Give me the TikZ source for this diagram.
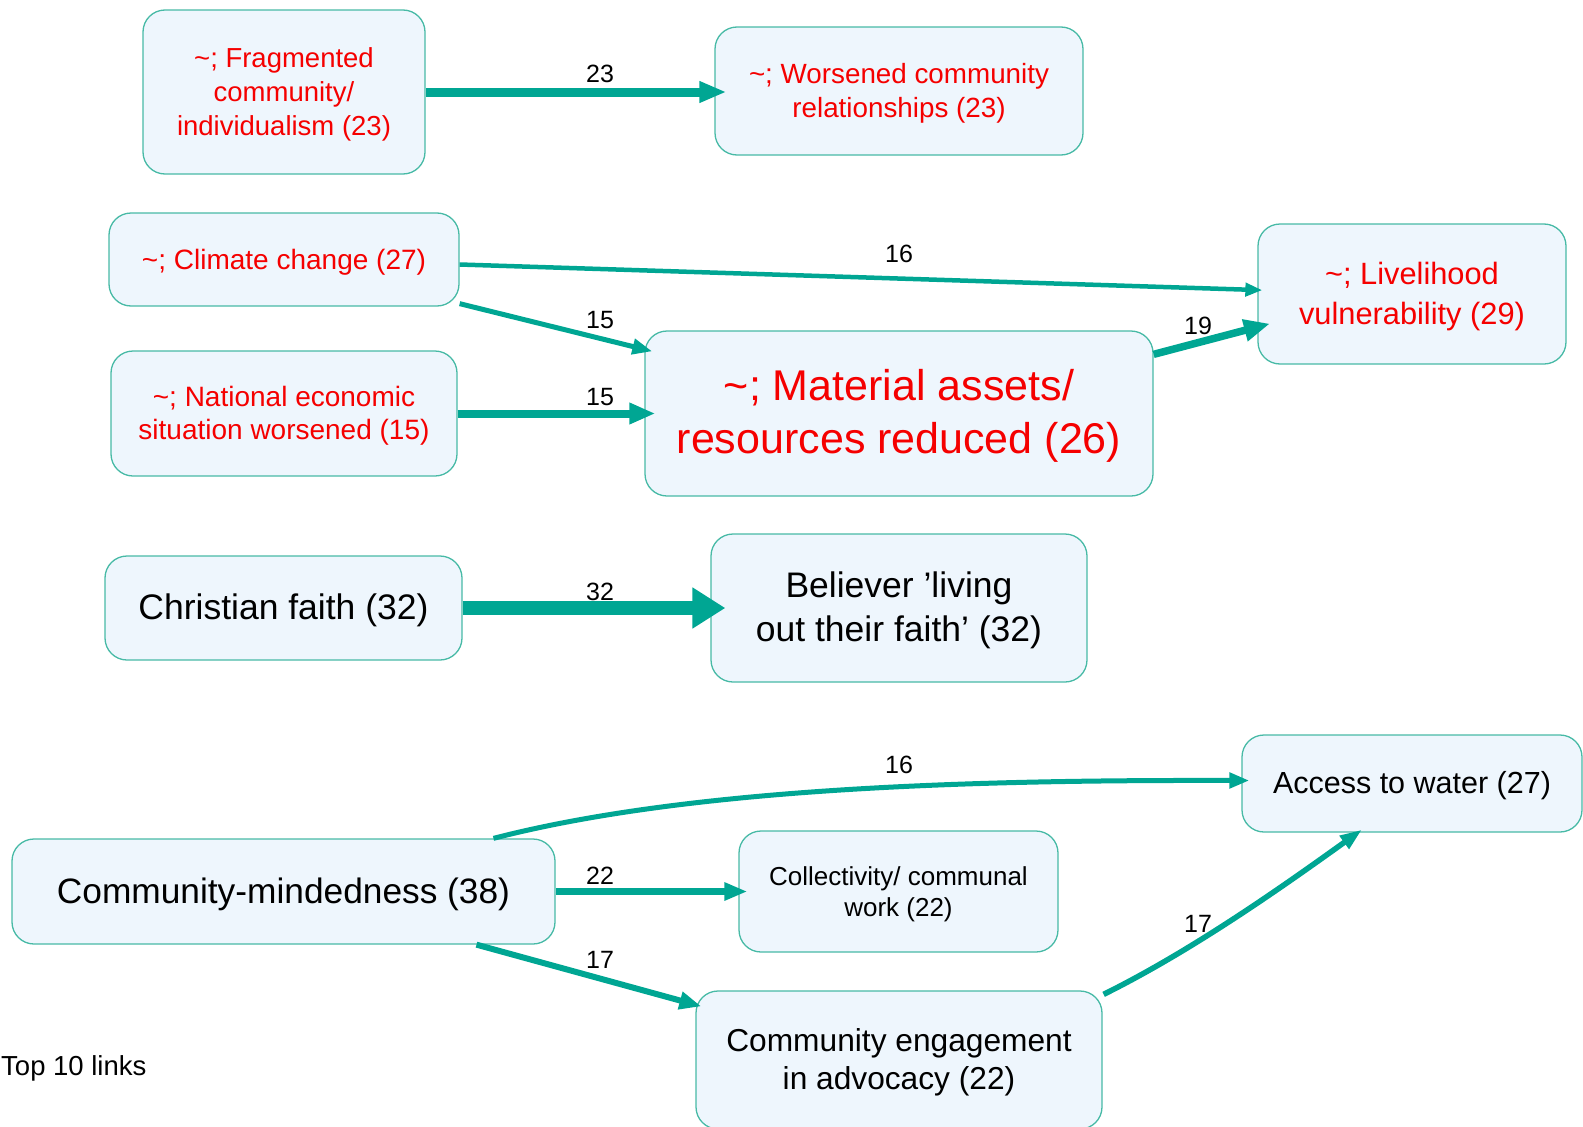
\documentclass[tikz,border=0pt]{standalone}
\usepackage{fontspec}
\setmainfont{Liberation Sans}
\usetikzlibrary{arrows.meta,calc}

\definecolor{linkcol}{RGB}{0,166,147}
\definecolor{boxline}{RGB}{72,186,166}
\definecolor{boxfill}{RGB}{238,246,253}
\definecolor{negtext}{RGB}{245,0,0}

\newcommand\fsz[2]{\fontsize{#1}{#2}\selectfont}

\tikzset{
  box/.style={draw=boxline, line width=1.3pt, fill=boxfill, rounded corners=22pt,
              inner sep=0pt},
  % box caption, set slightly below the geometric centre of its box
  txt/.style={inner sep=0pt, align=center, yshift=-2.5pt, text=black},
  negtxt/.style={txt, text=negtext},
  link/.style={draw=linkcol, line cap=butt},
  elab/.style={font=\fsz{25}{30}, inner sep=0pt, text=black},
}

\begin{document}
\begin{tikzpicture}[x=1pt, y=-1pt]
\useasboundingbox (0,0) rectangle (1583,1127);

% ---- factor nodes ----
\node[box, minimum width=282pt, minimum height=164pt,
  label={[negtxt, font=\fsz{27.5}{34}]center:{\textasciitilde; Fragmented\\community/\\individualism (23)}}]
  (frag) at (284,92) {};
\node[box, minimum width=368pt, minimum height=128pt,
  label={[negtxt, font=\fsz{27.8}{34.3}]center:{\textasciitilde; Worsened community\\relationships (23)}}]
  (wors) at (899,91) {};

\node[box, minimum width=350pt, minimum height=93pt,
  label={[negtxt, font=\fsz{28}{34}]center:{\textasciitilde; Climate change (27)}}]
  (clim) at (284,259.5) {};
\node[box, minimum width=346pt, minimum height=125pt,
  label={[negtxt, font=\fsz{28}{33.3}]center:{\textasciitilde; National economic\\situation worsened (15)}}]
  (natl) at (284,413.5) {};
\node[box, minimum width=508pt, minimum height=165pt,
  label={[negtxt, font=\fsz{43}{52.5}]center:{\textasciitilde; Material assets/\\resources reduced (26)}}]
  (matl) at (899,413.5) {};
\node[box, minimum width=308pt, minimum height=140pt,
  label={[negtxt, font=\fsz{30.8}{40.4}]center:{\textasciitilde; Livelihood\\vulnerability (29)}}]
  (live) at (1412,294) {};

\node[box, minimum width=357pt, minimum height=104pt,
  label={[txt, font=\fsz{35.5}{43.4}]center:{Christian faith (32)}}]
  (chri) at (283.5,608) {};
\node[box, minimum width=376pt, minimum height=148pt,
  label={[txt, font=\fsz{35.5}{43.4}]center:{Believer ’living\\out their faith’ (32)}}]
  (beli) at (899,608) {};

\node[box, minimum width=340pt, minimum height=97pt,
  label={[txt, font=\fsz{30.5}{37}]center:{Access to water (27)}}]
  (acce) at (1412,783.5) {};
\node[box, minimum width=543pt, minimum height=105pt,
  label={[txt, font=\fsz{35.3}{43}]center:{Community-mindedness (38)}}]
  (comm) at (283.5,891.5) {};
\node[box, minimum width=319pt, minimum height=121pt,
  label={[txt, font=\fsz{26}{31.3}]center:{Collectivity/ communal\\work (22)}}]
  (coll) at (898.5,891.5) {};
\node[box, minimum width=406pt, minimum height=138pt,
  label={[txt, font=\fsz{31.7}{38.4}]center:{Community engagement\\in advocacy (22)}}]
  (enga) at (899,1060) {};

\node[anchor=base west, inner sep=0pt, font=\fsz{27.5}{33}] (caption) at (1,1075) {Top 10 links};

% ---- links, width by strength ----
\draw[link, line width=9pt, -{Triangle[length=27pt,width=20pt]}, shorten >=-12pt]
  (frag.east) -- (frag.east -| wors.west) node[elab] at (600,74) {23};

\draw[link, line width=4.5pt, -{Triangle[length=17pt,width=13pt]}, shorten >=-5pt]
  ($(clim.east)+(0,5)$) -- ($(live.west)+(0,-4)$) node[elab] at (899,254) {16};

\draw[link, line width=5pt, -{Triangle[length=20pt,width=15pt]}]
  ($(clim.south east)+(0,-3)$) -- ($(matl.north west)+(8,21)$) node[elab] at (600,320) {15};

\draw[link, line width=8pt, -{Triangle[length=26pt,width=20pt]}, shorten >=-11pt]
  (natl.east) -- (natl.east -| matl.west) node[elab] at (600,397) {15};

\draw[link, line width=7.5pt, -{Triangle[length=26pt,width=21pt]}, shorten >=-13pt]
  ($(matl.north east)+(0,24)$) -- ($(live.west)+(0,33)$) node[elab] at (1198,326) {19};

\draw[link, line width=14pt, -{Triangle[length=33pt,width=39pt]}, shorten >=-15pt]
  (chri.east) -- (chri.east -| beli.west) node[elab] at (600,592) {32};

\draw[link, line width=5pt, -{Triangle[length=20pt,width=15pt]}, shorten >=-8pt]
  ($(comm.north)+(210,0)$) .. controls (700,785) and (1000,780) .. ($(acce.west)+(0,-3)$)
  node[elab] at (899,765) {16};

\draw[link, line width=7.5pt, -{Triangle[length=23pt,width=17pt]}, shorten >=-9pt]
  (comm.east) -- (comm.east -| coll.west) node[elab] at (600,876) {22};

\draw[link, line width=6pt, -{Triangle[length=22pt,width=17pt]}]
  ($(comm.south)+(193,0)$) -- ($(enga.north west)+(6,16)$) node[elab] at (600,960) {17};

\draw[link, line width=5.5pt, -{Triangle[length=22pt,width=15pt]}]
  ($(enga.north east)+(1,4)$) .. controls (1193,950) and (1282,887) .. ($(acce.south)+(-50,-3)$)
  node[elab] at (1198,924) {17};
\end{tikzpicture}
\end{document}
